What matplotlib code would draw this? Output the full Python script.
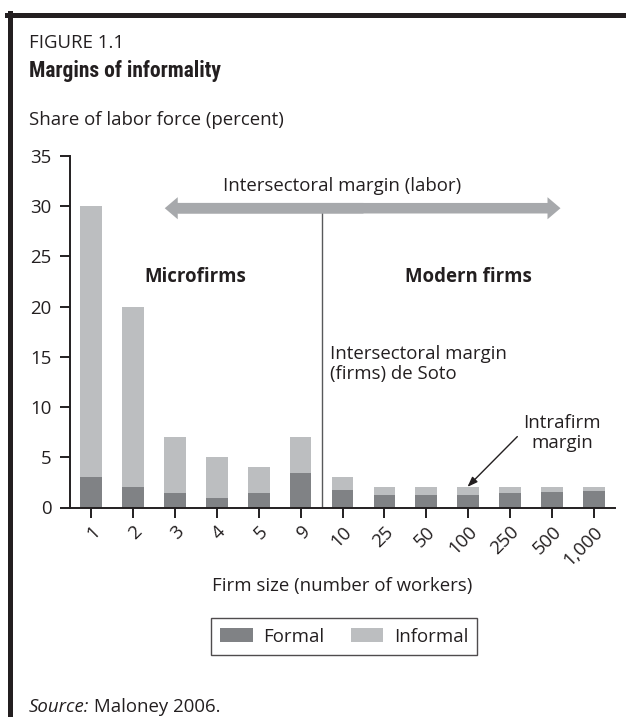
import matplotlib.pyplot as plt
import matplotlib.patches as mpatches
from matplotlib.lines import Line2D
import numpy as np

# data
sizes = ["1", "2", "3", "4", "5", "9", "10", "25", "50", "100", "250", "500", "1,000"]
formal = [3.0, 2.0, 1.4, 0.9, 1.4, 3.4, 1.7, 1.2, 1.2, 1.2, 1.4, 1.5, 1.6]
total = [30, 20, 7, 5, 4, 7, 3, 2, 2, 2, 2, 2, 2]
informal = [t - f for t, f in zip(total, formal)]

plt.rcParams['font.family'] = ['Open Sans', 'DejaVu Sans']
fs = 13.4
dark = "#808285"
light = "#bcbec0"
ink = "#231f20"
cond = ['Roboto Condensed', 'Fira Sans Condensed', 'Barlow Condensed', 'IBM Plex Sans Condensed',
        'PT Sans Narrow', 'Archivo Narrow', 'Saira SemiCondensed', 'DejaVu Sans']

fig = plt.figure(figsize=(6.26, 7.17), dpi=100)
ax = fig.add_axes([70/626, 1-507.5/717, 545/626, 351.5/717])

x = np.arange(len(sizes))
ax.bar(x, formal, width=0.52, color=dark, label="Formal", zorder=2)
ax.bar(x, informal, bottom=formal, width=0.52, color=light, label="Informal", zorder=2)

ax.set_xlim(-0.5, 12.5)
ax.set_ylim(0, 35)
ax.set_yticks(range(0, 36, 5))
ax.set_xticks(x)
ax.set_xticklabels(sizes, rotation=45, ha="right", va="top", rotation_mode="anchor")
for s in ["top", "right"]:
    ax.spines[s].set_visible(False)
for s in ["left", "bottom"]:
    ax.spines[s].set_linewidth(1.4)
    ax.spines[s].set_color(ink)
ax.tick_params(axis="both", labelsize=fs, colors=ink, length=7, width=1.4)
ax.tick_params(axis="x", pad=4)
ax.tick_params(axis="y", pad=6.5)

# divider between microfirms and modern firms
ax.plot([5.5, 5.5], [0, 29.5], color="#58595b", lw=1, zorder=1)

# double headed intersectoral arrow (two overlapping single-headed arrows)
hl = 0.31
ax.add_patch(mpatches.FancyArrow(1.76 + hl, 29.8, 11.2 - 1.76 - 2 * hl, 0, width=1.05, head_width=2.2,
                                 head_length=hl, color="#a7a9ac", lw=0, zorder=3))
ax.add_patch(mpatches.FancyArrow(6.5, 29.8, -(6.5 - 1.76 - hl), 0, width=1.05, head_width=2.2,
                                 head_length=hl, color="#a7a9ac", lw=0, zorder=3))

ax.text(6.0, 32.0, "Intersectoral margin (labor)", ha="center", va="center", fontsize=fs, color=ink)
ax.text(2.5, 23.0, "Microfirms", ha="center", va="center", fontsize=fs, fontweight="bold", color=ink)
ax.text(9.0, 23.0, "Modern firms", ha="center", va="center", fontsize=fs, fontweight="bold", color=ink)
ax.text(5.69, 14.3, "Intersectoral margin\n(firms) de Soto", ha="left", va="center",
        fontsize=fs, color=ink, linespacing=1.1)
ax.text(11.24, 7.4, "Intrafirm\nmargin", ha="center", va="center", fontsize=fs, color=ink, linespacing=1.1)
ax.annotate("", xy=(8.98, 2.05), xytext=(10.17, 7.06),
            arrowprops=dict(arrowstyle="-|>,head_length=0.6,head_width=0.22", color=ink, lw=1,
                            shrinkA=0, shrinkB=0))

# headings and notes
fig.text(29/626, 1-43.5/717, "FIGURE 1.1", fontsize=fs, color=ink, va="center")
fig.text(29/626, 1-71/717, "Margins of informality", fontsize=15.5, fontweight="bold",
         family=cond, color=ink, va="center")
fig.text(29/626, 1-120/717, "Share of labor force (percent)", fontsize=fs, color=ink, va="center")
fig.text(342/626, 1-586/717, "Firm size (number of workers)", fontsize=fs, color=ink,
         ha="center", va="center")
src = fig.text(29/626, 1-707/717, "Source:", fontsize=fs, style="italic", color=ink, va="center")
plt.annotate(" Maloney 2006.", xy=(1, 0.5), xycoords=src, va="center", fontsize=fs, color=ink)

leg = fig.legend(loc="center", bbox_to_anchor=(344/626, 1-636.5/717), ncol=2, fontsize=fs,
                 frameon=True, fancybox=False, edgecolor=ink, handlelength=1.75, handleheight=0.85,
                 handletextpad=0.55, columnspacing=1.45, borderpad=0.5)
leg.get_frame().set_linewidth(1.0)
for t in leg.get_texts():
    t.set_color(ink)

# page border (top and left rules)
fig.add_artist(Line2D([9.5/626, 9.5/626], [0, 1-13/717], transform=fig.transFigure, color=ink, lw=3.6))
fig.add_artist(Line2D([7/626, 1], [1-15/717, 1-15/717], transform=fig.transFigure, color=ink, lw=3.6))

fig.savefig("out.png", dpi=100)
